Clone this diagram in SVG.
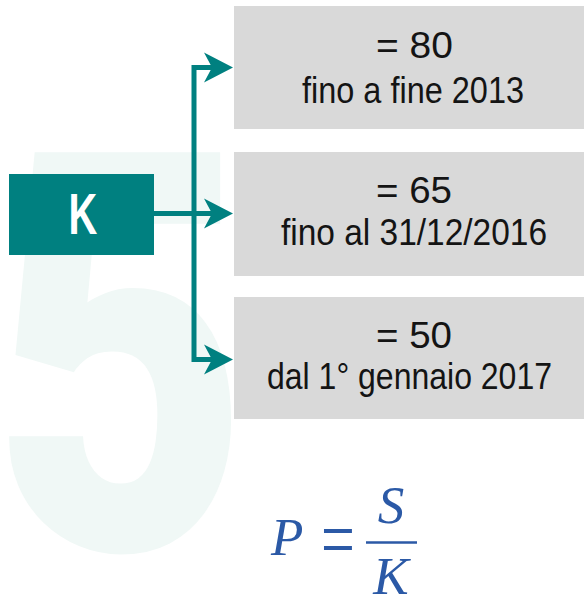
<svg xmlns="http://www.w3.org/2000/svg" width="584" height="597" viewBox="0 0 584 597">
  <style>
    .box { fill: #d9d9d9; }
    .lbl { font-family: "Liberation Sans", Arial, sans-serif; font-size: 36px; fill: #141414; }
    .conn { fill: none; stroke: #008080; stroke-width: 5; stroke-linejoin: miter; }
    .head { fill: #008080; }
    .math { font-family: "Liberation Serif", "Times New Roman", serif; font-size: 53px; fill: #2b59a6; }
  </style>
  <defs>
    <polygon id="ah" points="0,0 -29,-15 -21,0 -29,15"/>
  </defs>
  <rect width="584" height="597" fill="#ffffff"/>
  <g id="bg5">
    <text x="0" y="0" transform="translate(-8.5,549) scale(0.8,1)" font-family="Roboto, 'Liberation Sans', Arial, sans-serif" font-weight="900" font-size="558" fill="#f0f8f6">5</text>
  </g>
  <g id="nodeK">
    <rect x="9" y="174" width="145" height="81" fill="#008080"/>
    <text x="0" y="0" transform="translate(83,234) scale(0.7,1)" text-anchor="middle" font-family="'Liberation Sans', Arial, sans-serif" font-weight="bold" font-size="57" fill="#ffffff">K</text>
  </g>
  <g id="box1">
    <rect class="box" x="234" y="6" width="350" height="123"/>
    <text class="lbl" x="376" y="58" textLength="77" lengthAdjust="spacingAndGlyphs">= 80</text>
    <text class="lbl" x="302" y="103" textLength="222" lengthAdjust="spacingAndGlyphs">fino a fine 2013</text>
  </g>
  <g id="box2">
    <rect class="box" x="234" y="152" width="350" height="124"/>
    <text class="lbl" x="376" y="203" textLength="76" lengthAdjust="spacingAndGlyphs">= 65</text>
    <text class="lbl" x="281" y="245" textLength="266" lengthAdjust="spacingAndGlyphs">fino al 31/12/2016</text>
  </g>
  <g id="box3">
    <rect class="box" x="234" y="297" width="350" height="122"/>
    <text class="lbl" x="376" y="348" textLength="76" lengthAdjust="spacingAndGlyphs">= 50</text>
    <text class="lbl" x="267" y="389" textLength="285" lengthAdjust="spacingAndGlyphs">dal 1° gennaio 2017</text>
  </g>
  <g id="connectors">
    <path class="conn" d="M222,67.5 H194 V359.5 H222"/>
    <path class="conn" d="M154,213.5 H222"/>
    <use href="#ah" class="head" x="233" y="67.5"/>
    <use href="#ah" class="head" x="233" y="213.5"/>
    <use href="#ah" class="head" x="233" y="359.5"/>
  </g>
  <g id="formula">
    <text class="math" x="271" y="555" font-style="italic">P</text>
    <text x="0" y="0" transform="translate(321,567) scale(1,1.37)" font-family="'Liberation Serif', 'Times New Roman', serif" font-size="60" fill="#2b59a6">=</text>
    <line x1="366" y1="542.5" x2="417" y2="542.5" stroke="#2b59a6" stroke-width="2.5"/>
    <text class="math" x="391" y="523" font-style="italic" text-anchor="middle">S</text>
    <text class="math" x="391" y="594" font-style="italic" text-anchor="middle">K</text>
  </g>
</svg>
